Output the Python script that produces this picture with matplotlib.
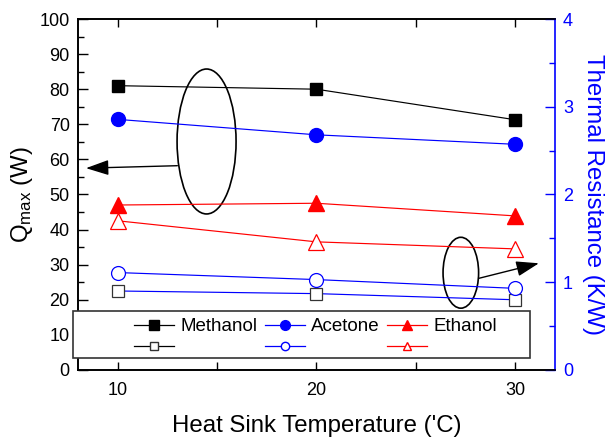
import numpy as np
import matplotlib
matplotlib.use('Agg')
import matplotlib.pyplot as plt
from matplotlib.patches import Ellipse, Rectangle
from matplotlib.lines import Line2D

## FONTS
plt.rcParams['font.family'] = ['Liberation Sans', 'DejaVu Sans']
plt.rcParams['mathtext.fontset'] = 'custom'
plt.rcParams['mathtext.rm'] = 'Liberation Sans'
plt.rcParams['mathtext.it'] = 'Liberation Sans:italic'

## DATA
temps = [10, 20, 30]
fluids = ['Methanol', 'Acetone', 'Ethanol']
qmax_methanol = [81, 80, 71.3]
qmax_acetone = [71.4, 67, 64.3]
qmax_ethanol = [47, 47.5, 43.9]
res_methanol = [0.90, 0.87, 0.80]
res_acetone = [1.11, 1.03, 0.93]
res_ethanol = [1.70, 1.46, 1.38]

BLUE = '#0000ff'
RED = '#ff0000'

## FIGURE
fig = plt.figure(figsize=(6.05, 4.42), dpi=100)
ax = fig.add_axes([0.129, 0.163, 0.788, 0.794])
ax2 = ax.twinx()

ms = 9
# filled markers -> Qmax (left axis)
ax.plot(temps, qmax_methanol, color='k', lw=0.85, marker='s', ms=ms,
        mfc='k', mec='k')
ax.plot(temps, qmax_acetone, color=BLUE, lw=0.85, marker='o', ms=ms + 1,
        mfc=BLUE, mec=BLUE)
ax.plot(temps, qmax_ethanol, color=RED, lw=0.85, marker='^', ms=ms + 2,
        mfc=RED, mec=RED)

# open markers -> thermal resistance (right axis)
# (the open square series is joined by a blue line in the original)
ax2.plot(temps, res_methanol, color=BLUE, lw=0.85, marker='s', ms=ms,
         mfc='white', mec='#333333', mew=0.9)
ax2.plot(temps, res_acetone, color=BLUE, lw=0.85, marker='o', ms=ms + 1,
         mfc='white', mec=BLUE, mew=0.9)
ax2.plot(temps, res_ethanol, color=RED, lw=0.85, marker='^', ms=ms + 2,
         mfc='white', mec=RED, mew=0.9)

## AXES
ax.set_xlim(8, 32)
ax.set_ylim(0, 100)
ax2.set_ylim(0, 4)
ax.set_xticks([10, 20, 30])
ax.set_xticks([15, 25], minor=True)
ax.set_yticks(np.arange(0, 101, 10))
ax.set_yticks(np.arange(5, 100, 10), minor=True)
ax2.set_yticks([0, 1, 2, 3, 4])
ax2.set_yticks(np.arange(0.5, 4, 1), minor=True)

ax.tick_params(which='both', direction='in', top=True, labelsize=13,
               width=1, pad=6)
ax.tick_params(which='major', length=7)
ax.tick_params(which='minor', length=4.5)
ax.tick_params(axis='x', which='both', length=6, pad=9)
ax2.tick_params(which='both', direction='in', colors=BLUE, labelsize=13,
                width=1, pad=6)
ax2.tick_params(which='major', length=7)
ax2.tick_params(which='minor', length=4.5)

for s in ['left', 'bottom', 'top']:
    ax.spines[s].set_linewidth(1.2)
    ax2.spines[s].set_linewidth(1.2)
ax2.spines['right'].set_color(BLUE)
ax2.spines['right'].set_linewidth(1.2)
ax.spines['right'].set_visible(False)

ax.set_xlabel("Heat Sink Temperature ('C)", fontsize=17.3, labelpad=11)
ax.set_ylabel(r'$\mathrm{Q_{max}}$ (W)', fontsize=17.3, labelpad=3)
ax2.set_ylabel('Thermal Resistance (K/W)', fontsize=17.3, color=BLUE,
               rotation=270, labelpad=22)

## ELLIPSES + ARROWS
head = '-|>,head_length=1.4,head_width=0.47'
ax.add_patch(Ellipse((14.47, 65.1), 2.97, 41.3, fill=False, ec='k', lw=1.2))
ax.annotate('', xy=(8.4, 57.5), xytext=(13.0, 58.2),
            arrowprops=dict(arrowstyle=head, color='k', lw=1,
                            mutation_scale=10, shrinkA=0, shrinkB=0))
ax.add_patch(Ellipse((27.27, 27.7), 1.79, 20.2, fill=False, ec='k', lw=1.2))
ax.annotate('', xy=(31.2, 30.4), xytext=(28.17, 26.1),
            arrowprops=dict(arrowstyle=head, color='k', lw=1,
                            mutation_scale=10, shrinkA=0, shrinkB=0))

## LEGEND (box drawn by hand, content placed inside)
box = Rectangle((-0.0105, 0.034), 0.958, 0.134, transform=ax2.transAxes,
                fc='white', ec='#333333', lw=1.2, clip_on=False, zorder=10)
ax2.add_patch(box)

hs = [
    Line2D([], [], color='k', lw=0.9, marker='s', ms=6.5, mfc='k', mec='k'),
    Line2D([], [], color='k', lw=0.9, marker='s', ms=6, mfc='white', mec='#333333'),
    Line2D([], [], color=BLUE, lw=0.9, marker='o', ms=7, mfc=BLUE, mec=BLUE),
    Line2D([], [], color=BLUE, lw=0.9, marker='o', ms=6, mfc='white', mec=BLUE),
    Line2D([], [], color=RED, lw=0.9, marker='^', ms=7.5, mfc=RED, mec=RED),
    Line2D([], [], color=RED, lw=0.9, marker='^', ms=6, mfc='white', mec=RED),
]
labels = [fluids[0], '', fluids[1], '', fluids[2], '']
leg = ax2.legend(hs, labels, ncol=3, loc='upper left',
                 bbox_to_anchor=(0.09, 0.185), frameon=False,
                 fontsize=13.5, handlelength=2.15, handletextpad=0.35,
                 columnspacing=0.35, labelspacing=0.2, borderpad=0.2)
leg.set_zorder(11)

fig.savefig('out.png', dpi=100)
